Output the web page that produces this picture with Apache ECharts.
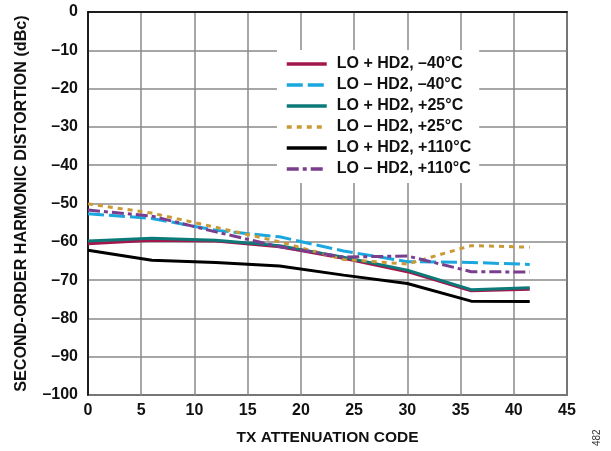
<!DOCTYPE html>
<html>
<head>
<meta charset="utf-8">
<script src="https://cdn.jsdelivr.net/npm/echarts@6/dist/echarts.min.js"></script>
<style>html,body{margin:0;padding:0;background:#fff}#c{width:611px;height:451px}</style>
</head>
<body>
<div id="c"></div>
<script>
const xCodes = [0, 6, 12, 18, 24, 30, 36, 41.5];
const seriesNames = ['LO + HD2, –40°C', 'LO – HD2, –40°C', 'LO + HD2, +25°C', 'LO – HD2, +25°C', 'LO + HD2, +110°C', 'LO – HD2, +110°C'];
const loPlusM40 = [-60.5, -59.6, -59.8, -61.3, -64.3, -67.8, -72.8, -72.4];
const loMinusM40 = [-52.7, -53.9, -57.0, -58.7, -62.4, -65.2, -65.4, -65.9];
const loPlusP25 = [-59.8, -59.1, -59.6, -61.0, -64.0, -67.4, -72.5, -72.0];
const loMinusP25 = [-50.1, -52.5, -56.2, -60.0, -64.6, -65.8, -61.0, -61.4];
const loPlusP110 = [-62.2, -64.8, -65.4, -66.3, -68.7, -70.9, -75.5, -75.6];
const loMinusP110 = [-51.7, -53.3, -57.4, -61.3, -64.0, -63.7, -67.8, -67.9];
const xTicks = {min: 0, max: 45, interval: 5};
const yTicks = {min: -100, max: 0, interval: 10};

const allVals = [loPlusM40, loMinusM40, loPlusP25, loMinusP25, loPlusP110, loMinusP110];
const colors = ['#a3174d', '#1aa7dd', '#0b7a78', '#c99a35', '#000000', '#7a3e8f'];
const dashes = ['solid', [16, 5], 'solid', [5, 5], 'solid', [12, 4, 4, 4]];

const font = 'Liberation Sans, Arial, sans-serif';
const series = allVals.map((vals, i) => ({
  name: seriesNames[i],
  type: 'line',
  symbol: 'none',
  data: xCodes.map((x, j) => [x, vals[j]]),
  lineStyle: {color: colors[i], width: 3, type: dashes[i]},
  itemStyle: {color: colors[i]},
  z: 3
}));

const chart = echarts.init(document.getElementById('c'), null, {renderer: 'canvas'});
chart.setOption({
  animation: false,
  backgroundColor: '#fff',
  grid: {left: 88, right: 44, top: 12, bottom: 56, show: true, borderColor: '#000', borderWidth: 1.5},
  legend: {
    orient: 'vertical', left: 277, top: 50,
    backgroundColor: '#fff', padding: [6, 8, 6, 8],
    itemWidth: 40, itemHeight: 14, itemGap: 5,
    itemStyle: {opacity: 0},
    lineStyle: {width: 3.5},
    textStyle: {fontFamily: font, fontWeight: 'bold', fontSize: 16, lineHeight: 14, color: '#111', padding: [0, 0, 0, 5]},
    data: seriesNames
  },
  xAxis: {
    type: 'value', min: xTicks.min, max: xTicks.max, interval: xTicks.interval,
    name: 'TX ATTENUATION CODE', nameLocation: 'middle', nameGap: 35,
    nameTextStyle: {fontFamily: font, fontWeight: 'bold', fontSize: 15.5, color: '#111'},
    axisLine: {lineStyle: {color: '#000', width: 1.5}},
    axisTick: {show: false},
    axisLabel: {margin: 8, fontFamily: font, fontWeight: 'bold', fontSize: 16, color: '#111'},
    splitLine: {show: true, lineStyle: {color: '#8a8a8a', width: 1.5}}
  },
  yAxis: {
    type: 'value', min: yTicks.min, max: yTicks.max, interval: yTicks.interval,
    name: 'SECOND-ORDER HARMONIC DISTORTION (dBc)', nameLocation: 'middle', nameGap: 58,
    nameTextStyle: {fontFamily: font, fontWeight: 'bold', fontSize: 16.2, color: '#111'},
    axisLine: {lineStyle: {color: '#000', width: 1.5}},
    axisTick: {show: false},
    axisLabel: {margin: 10, fontFamily: font, fontWeight: 'bold', fontSize: 16, color: '#111',
      formatter: v => String(v).replace('-', '–')},
    splitLine: {show: true, lineStyle: {color: '#8a8a8a', width: 1.5}}
  },
  graphic: [{
    type: 'text', x: 592, y: 446, rotation: Math.PI / 2,
    style: {text: '482', fontFamily: font, fontSize: 10, fill: '#333'}
  }],
  series: series
});
</script>
</body>
</html>
